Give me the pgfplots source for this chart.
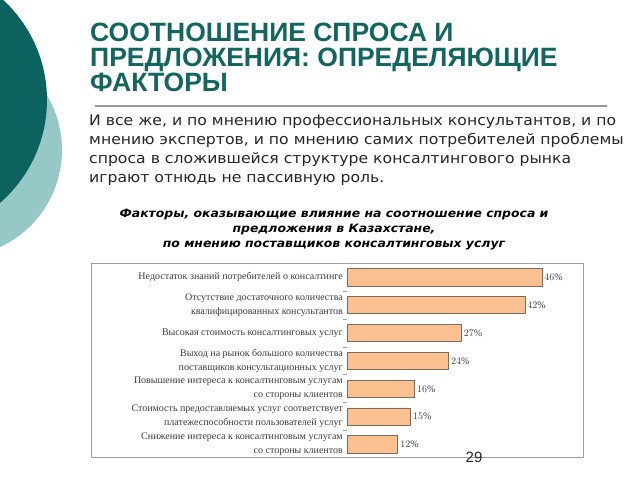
\documentclass[border=0pt]{standalone}
\usepackage{pgfplots}
\pgfplotsset{compat=1.18}
\usepackage{fontspec}
\setmainfont{Liberation Serif}
\newfontfamily\arialfont{Liberation Sans}
\newfontfamily\verdanafont[FakeStretch=1.08]{DejaVu Sans}
\newfontfamily\verdanatitle[FakeStretch=1.08]{DejaVu Sans}
\newfontfamily\timesfont{Liberation Serif}

\definecolor{darkteal}{RGB}{12,98,94}
\definecolor{lightteal}{RGB}{150,200,200}
\definecolor{titleteal}{RGB}{19,102,96}
\definecolor{barfill}{RGB}{250,192,143}
\definecolor{baredge}{RGB}{125,108,92}
\definecolor{labelgray}{RGB}{60,60,60}

\begin{document}
\begin{tikzpicture}[x=1pt,y=1pt]
\useasboundingbox (0,0) rectangle (640,480);
\fill[white] (0,0) rectangle (640,480);

% decorative circles on the left
\begin{scope}
  \clip (0,0) rectangle (640,480);
  \fill[lightteal] (-45,330) circle (107);
  \fill[darkteal] (-89,380) circle (136);
\end{scope}

% slide title
\begin{scope}[every node/.style={anchor=base west, inner sep=0pt, text=titleteal,
    font=\arialfont\bfseries\fontsize{26.5}{30}\selectfont}]
  \node at (90,438.5) {СООТНОШЕНИЕ СПРОСА И};
  \node at (90,413.5) {ПРЕДЛОЖЕНИЯ: ОПРЕДЕЛЯЮЩИЕ};
  \node at (90,388) {ФАКТОРЫ};
\end{scope}
\draw[gray!80, line width=1.3pt] (95,374) -- (607,374);

% body text
\begin{scope}[every node/.style={anchor=base west, inner sep=0pt, text=black!85,
    font=\verdanafont\fontsize{14.5}{17}\selectfont}]
  \node at (89,354) {И все же, и по мнению профессиональных консультантов, и по};
  \node at (89,335) {мнению экспертов, и по мнению самих потребителей проблемы};
  \node at (89,316) {спроса в сложившейся структуре консалтингового рынка};
  \node at (89,297) {играют отнюдь не пассивную роль.};
\end{scope}

% chart title
\begin{scope}[every node/.style={anchor=base, inner sep=0pt, text=black,
    font=\verdanatitle\bfseries\itshape\fontsize{11.5}{13}\selectfont}]
  \node at (334,262.5) {Факторы, оказывающие влияние на соотношение спроса и};
  \node at (334,247.5) {предложения в Казахстане,};
  \node at (334,232.5) {по мнению поставщиков консалтинговых услуг};
\end{scope}

% chart frame
\draw[gray!75, line width=1pt] (91,23) rectangle (583,217);

\begin{axis}[
    at={(347pt,21.5pt)}, anchor=south west,
    scale only axis,
    width=233.2pt, height=195.3pt,
    xbar, bar width=17.5pt,
    xmin=0, xmax=55,
    ymin=0.5, ymax=7.5,
    y dir=reverse,
    axis line style={draw=none},
    xtick=\empty,
    ytick={1,...,7},
    yticklabels={
      {Недостаток знаний потребителей о консалтинге},
      {Отсутствие достаточного количества\\квалифицированных консультантов},
      {Высокая стоимость консалтинговых услуг},
      {Выход на рынок большого количества\\поставщиков консультационных услуг},
      {Повышение интереса к консалтинговым услугам\\со стороны клиентов},
      {Стоимость предоставляемых услуг соответствует\\платежеспособности пользователей услуг},
      {Снижение интереса к консалтинговым услугам\\со стороны клиентов}},
    yticklabel style={font=\timesfont\fontsize{10}{14}\selectfont,
      align=right, text=labelgray, inner sep=4pt},
    major tick length=0pt,
    minor ytick={1.5,2.5,...,6.5},
    minor tick length=4pt,
    tick align=outside,
    ytick pos=left,
    minor tick style={gray!70, line width=0.8pt},
    nodes near coords={\pgfmathprintnumber{\pgfplotspointmeta}\%},
    nodes near coords align=horizontal,
    every node near coord/.append style={font=\timesfont\fontsize{10}{12}\selectfont,
      text=labelgray, inner sep=2pt},
    clip=false,
  ]
  \addplot[fill=barfill, draw=baredge, line width=0.8pt] coordinates {
    (46,1) (42,2) (27,3) (24,4) (16,5) (15,6) (12,7)
  };
\end{axis}

% page number
\node[font=\arialfont\fontsize{15}{17}\selectfont, text=black!85, inner sep=0pt]
  at (474,23) {29};
\end{tikzpicture}
\end{document}
